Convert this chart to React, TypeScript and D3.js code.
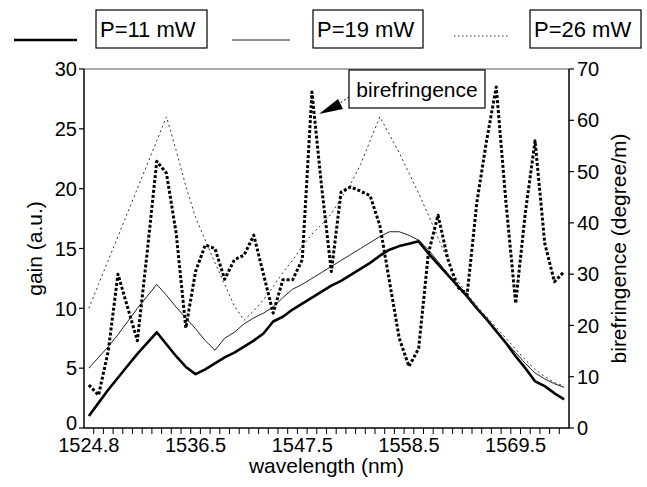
import React from "react";
import * as d3 from "d3";

// ---- data ----
const nPoints = 50;
const wavelengthLabels = ["1524.8", "1536.5", "1547.5", "1558.5", "1569.5"];
const labelEvery = 11;

const gainP11 = [
  1.0, 2.1, 3.2, 4.2, 5.2, 6.2, 7.1, 8.0, 7.0, 6.0,
  5.1, 4.5, 4.9, 5.4, 5.9, 6.3, 6.8, 7.3, 7.9, 8.9,
  9.3, 9.9, 10.4, 10.9, 11.4, 11.9, 12.3, 12.8, 13.3, 13.8,
  14.4, 14.9, 15.2, 15.4, 15.6, 14.6, 13.7, 12.8, 11.9, 11.0,
  10.0, 9.1, 8.1, 7.1, 6.0, 5.0, 3.9, 3.5, 2.9, 2.4,
];
const gainP19 = [
  5.0, 5.9, 6.8, 7.8, 8.9, 10.0, 11.0, 12.0, 11.1, 10.1,
  9.2, 8.3, 7.3, 6.5, 7.5, 8.0, 8.7, 9.2, 9.6, 10.1,
  10.9, 11.6, 12.0, 12.5, 13.0, 13.5, 14.0, 14.5, 15.0, 15.5,
  16.0, 16.4, 16.4, 16.1, 15.7, 14.9, 13.9, 12.9, 12.0, 11.0,
  10.0, 9.1, 8.2, 7.2, 6.3, 5.4, 4.6, 4.1, 3.7, 3.4,
];
const gainP26 = [
  10.0, 12.0, 14.0, 16.0, 18.0, 20.0, 22.0, 24.0, 26.0, 23.2,
  20.2, 17.6, 15.7, 13.8, 12.0, 10.2, 9.0, 9.8, 10.7, 11.8,
  13.0, 14.0, 15.2, 16.2, 17.0, 17.9, 19.2, 20.4, 22.0, 24.0,
  26.0, 24.5, 23.0, 21.3, 19.6, 17.8, 15.9, 14.0, 12.3, 11.2,
  10.2, 9.3, 8.4, 7.5, 6.6, 5.7, 4.9, 4.3, 3.8, 3.5,
];
const birefringence = [
  8.4, 6.4, 15, 30, 23.5, 17, 34, 52, 49.7, 38,
  19.5, 30.5, 35.7, 35.0, 29.0, 32.8, 33.7, 37.6, 30, 22.4,
  28.9, 28.9, 32.8, 65.5, 47, 30.5, 46.0, 47.0, 46.2, 45.3,
  39.5, 28.5, 17.5, 12, 15.5, 34, 41.5, 33, 27.5, 26,
  44, 56, 66.5, 44, 24.3, 42, 56, 36, 28.5, 30.5,
];
const gainTicks = [0, 5, 10, 15, 20, 25, 30];
const birefTicks = [0, 10, 20, 30, 40, 50, 60, 70];
const legendLabels = ["P=11 mW", "P=19 mW", "P=26 mW"];

// ---- layout ----
const W = 647;
const H = 487;
const L = 84, R = 569, T = 69, B = 428;
const FONT = "'Liberation Sans', Arial, Helvetica, sans-serif";

export default function App() {
  const idx = d3.range(nPoints);
  const xb = d3.scaleBand<number>().domain(idx).range([L, R]).paddingInner(0).paddingOuter(0);
  const xc = (i: number) => (xb(i) as number) + xb.bandwidth() / 2;
  const yG = d3.scaleLinear().domain([0, 30]).range([B, T]);
  const yB = d3.scaleLinear().domain([0, 70]).range([B, T]);

  const lineG = (arr: number[]) =>
    d3.line<number>().x((_, i) => xc(i)).y((d) => yG(d))(arr) as string;
  const lineB = d3.line<number>().x((_, i) => xc(i)).y((d) => yB(d))(birefringence) as string;

  const styles = [
    { stroke: "#000", width: 2.6, dash: "none" },
    { stroke: "#222", width: 1, dash: "none" },
    { stroke: "#333", width: 1, dash: "2,3" },
  ];
  const series = [gainP11, gainP19, gainP26];

  const legendPos = [
    { lx1: 14, lx2: 77, ly: 40, bx: 96, by: 10, bw: 111, bh: 38 },
    { lx1: 232, lx2: 290, ly: 40, bx: 313, by: 10, bw: 110, bh: 38 },
    { lx1: 454, lx2: 510, ly: 36, bx: 530, by: 10, bw: 111, bh: 38 },
  ];

  return (
    <svg
      width={W}
      height={H}
      style={{ position: "absolute", left: 0, top: 0, background: "#fff" }}
      fontFamily={FONT}
    >
      <rect x={0} y={0} width={W} height={H} fill="#fff" />
      {/* frame */}
      <line x1={L} y1={T} x2={R} y2={T} stroke="#555" strokeWidth={1} />
      <line x1={L} y1={T} x2={L} y2={B} stroke="#000" strokeWidth={1.5} />
      <line x1={R} y1={T} x2={R} y2={B} stroke="#000" strokeWidth={1.5} />
      <line x1={L} y1={B} x2={R} y2={B} stroke="#000" strokeWidth={1.5} />

      {/* left ticks */}
      {gainTicks.map((t) => (
        <g key={"g" + t}>
          <line x1={L - 5} x2={L} y1={yG(t)} y2={yG(t)} stroke="#000" strokeWidth={1.2} />
          <text x={L - 7} y={yG(t) - (t === 0 ? 5 : 0)} dy="0.36em" textAnchor="end" fontSize={20}>
            {t}
          </text>
        </g>
      ))}
      {/* right ticks */}
      {birefTicks.map((t) => (
        <g key={"b" + t}>
          <line x1={R} x2={R + 5} y1={yB(t)} y2={yB(t)} stroke="#000" strokeWidth={1.2} />
          <text x={R + 8} y={yB(t)} dy="0.36em" textAnchor="start" fontSize={20}>
            {t}
          </text>
        </g>
      ))}
      {/* x ticks */}
      {idx.slice(1).map((i) => (
        <line key={"xt" + i} x1={xb(i) as number} x2={xb(i) as number} y1={B} y2={B + 6} stroke="#000" strokeWidth={1} />
      ))}
      {wavelengthLabels.map((lab, k) => (
        <text key={lab} x={xc(k * labelEvery)} y={452} textAnchor="middle" fontSize={20}>
          {lab}
        </text>
      ))}

      {/* axis titles */}
      <text x={(L + R) / 2} y={473} textAnchor="middle" fontSize={21}>
        wavelength (nm)
      </text>
      <text transform={`translate(42,${(T + B) / 2}) rotate(-90)`} textAnchor="middle" fontSize={21}>
        gain (a.u.)
      </text>
      <text transform={`translate(626,${(T + B) / 2}) rotate(-90)`} textAnchor="middle" fontSize={21}>
        birefringence (degree/m)
      </text>

      {/* series */}
      {series.map((s, k) => (
        <path
          key={"s" + k}
          d={lineG(s)}
          fill="none"
          stroke={styles[k].stroke}
          strokeWidth={styles[k].width}
          strokeDasharray={styles[k].dash}
          strokeLinejoin="round"
        />
      ))}
      <path d={lineB} fill="none" stroke="#000" strokeWidth={3} strokeDasharray="3,2" strokeLinejoin="round" />

      {/* birefringence annotation */}
      <rect x={349} y={70} width={136} height={38} fill="#fff" stroke="#000" strokeWidth={1.2} />
      <text x={417} y={97} textAnchor="middle" fontSize={21}>
        birefringence
      </text>
      <line x1={349} y1={97} x2={340} y2={103} stroke="#000" strokeWidth={1} strokeDasharray="2,2" />
      <polygon points={`${xc(23) + 7},114 338,99 343,109`} fill="#000" />

      {/* legend */}
      {legendLabels.map((lab, k) => {
        const p = legendPos[k];
        return (
          <g key={lab}>
            <line
              x1={p.lx1}
              x2={p.lx2}
              y1={p.ly}
              y2={p.ly}
              stroke={styles[k].stroke}
              strokeWidth={k === 0 ? 2.4 : 1}
              strokeDasharray={k === 2 ? "1.5,2.5" : "none"}
            />
            <rect x={p.bx} y={p.by} width={p.bw} height={p.bh} fill="none" stroke="#000" strokeWidth={1.2} />
            <text x={p.bx + 4} y={p.by + 27} fontSize={22}>
              {lab}
            </text>
          </g>
        );
      })}
    </svg>
  );
}
